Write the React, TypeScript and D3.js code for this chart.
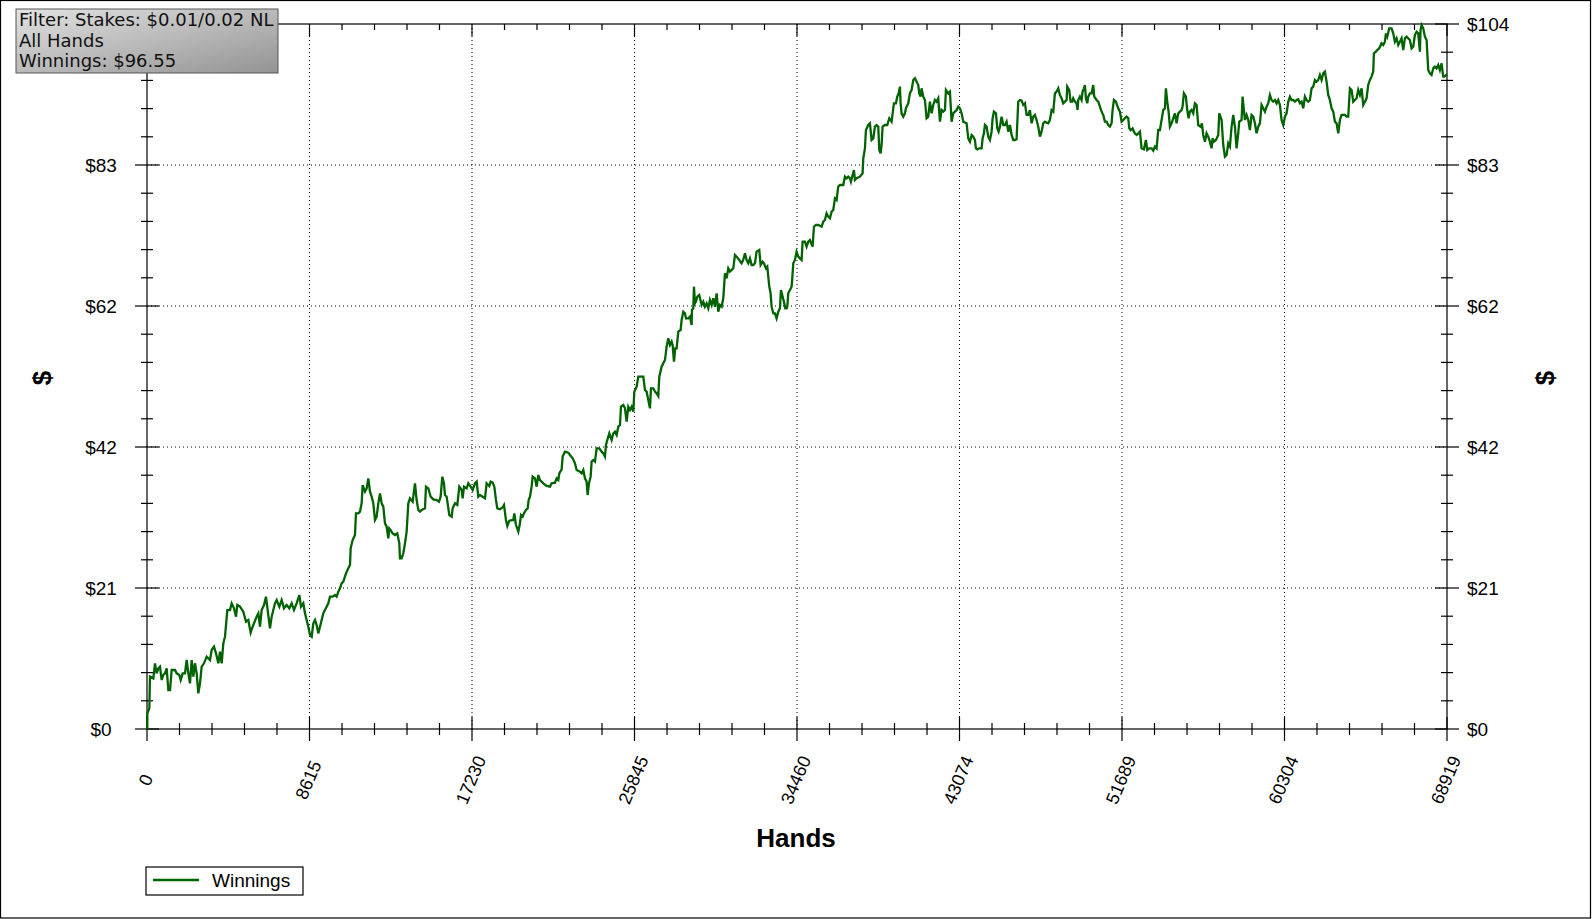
import * as d3 from "d3";

// chart values
const totalHands = 68919;
const maxWinnings = 104;
const xTickLabels = ["0", "8615", "17230", "25845", "34460", "43074", "51689", "60304", "68919"];
const yTickLabels = ["$0", "$21", "$42", "$62", "$83", "$104"];
const infoLines = ["Filter: Stakes: $0.01/0.02 NL", "All Hands", "Winnings: $96.55"];
const seriesName = "Winnings";
const xTitle = "Hands";
const yTitle = "$";

// [hands, cumulative winnings in $]
const winnings: [number, number][] = [
  [0, 0], [18, 0.34], [18, 2.31], [124, 3.05], [159, 7.72], [336, 7.47], [424, 9.69], [512, 8.21], [601, 8.95], [689, 9.19],
  [778, 7.23], [866, 7.97], [954, 8.21], [1043, 8.95], [1131, 5.75], [1219, 5.75], [1308, 8.7], [1484, 8.7], [1573, 8.21],
  [1714, 7.97], [1785, 7.23], [1891, 8.21], [2014, 8.21], [2103, 10.18], [2191, 8.21], [2279, 6.74], [2368, 10.18],
  [2456, 7.72], [2544, 9.69], [2633, 8.21], [2721, 5.26], [2810, 6.74], [2898, 9.19], [3022, 9.69], [3163, 10.67],
  [3340, 10.18], [3428, 11.65], [3552, 12.14], [3658, 11.16], [3781, 9.69], [3870, 11.41], [3958, 9.69], [4046, 12.64],
  [4135, 13.62], [4258, 17.55], [4400, 17.55], [4488, 18.54], [4612, 17.8], [4718, 16.57], [4788, 18.29], [4930, 18.05],
  [5106, 17.31], [5248, 15.83], [5371, 16.07], [5495, 14.21], [5601, 15.09], [5813, 16.57], [5902, 17.06], [5990, 15.09],
  [6079, 17.55], [6202, 18.29], [6308, 19.52], [6397, 17.55], [6520, 14.85], [6609, 16.57], [6785, 18.54], [6874, 19.03],
  [7015, 18.05], [7139, 19.03], [7262, 17.8], [7404, 18.29], [7545, 17.8], [7669, 18.54], [7792, 17.55], [7934, 18.54],
  [8075, 19.77], [8164, 18.05], [8287, 18.54], [8376, 17.06], [8464, 16.07], [8552, 15.09], [8641, 13.87], [8729, 13.62],
  [8817, 15.59], [8906, 16.07], [8994, 15.34], [9082, 14.11], [9171, 15.09], [9259, 16.07], [9347, 17.06], [9436, 17.55],
  [9524, 18.05], [9612, 18.54], [9701, 19.52], [9842, 19.52], [9966, 19.77], [10054, 19.52], [10143, 20.26], [10231, 20.75],
  [10319, 21.49], [10408, 21.73], [10549, 22.96], [10673, 23.7], [10761, 24.19], [10796, 26.65], [10902, 27.88],
  [11026, 28.62], [11079, 31.81], [11202, 31.81], [11291, 32.06], [11379, 33.29], [11432, 35.99], [11556, 35.01],
  [11645, 35.5], [11733, 36.98], [11821, 35.01], [11910, 34.27], [11998, 33.29], [12086, 30.83], [12175, 31.32],
  [12263, 33.29], [12351, 34.76], [12440, 33.29], [12528, 32.8], [12616, 30.34], [12705, 29.84], [12793, 28.13],
  [12846, 29.59], [12917, 29.35], [13023, 28.86], [13146, 28.62], [13270, 28.86], [13376, 27.39], [13411, 25.18],
  [13500, 25.18], [13588, 25.92], [13676, 27.39], [13765, 29.1], [13853, 33.29], [13941, 34.03], [14083, 33.54],
  [14207, 36.24], [14295, 33.78], [14383, 32.31], [14472, 32.06],
  [14561, 32.31], [14737, 32.55], [14790, 35.75], [14914, 35.5], [15038, 34.27], [15179, 33.88], [15356, 33.78],
  [15479, 33.54], [15568, 34.27], [15656, 37.22], [15744, 36.24], [15797, 34.52], [15886, 34.27], [16027, 31.57],
  [16151, 31.32], [16204, 32.55], [16328, 33.29], [16451, 33.05], [16557, 35.75], [16681, 35.26], [16734, 34.03],
  [16805, 35.75], [16946, 35.5], [17034, 36.24], [17158, 35.75], [17264, 35.26], [17388, 36.24], [17476, 36.49],
  [17564, 34.27], [17653, 34.52], [17794, 34.27], [17918, 34.03], [18006, 36.24], [18148, 35.85], [18218, 36.49],
  [18324, 36.34], [18413, 35.75], [18501, 33.78], [18572, 32.55], [18713, 32.41], [18854, 32.7], [18925, 33.05],
  [19031, 30.83], [19102, 29.95], [19208, 30.73], [19420, 30.83], [19473, 31.82], [19561, 30.09], [19685, 29.11],
  [19773, 30.34], [19826, 31.57], [19915, 31.32], [19985, 31.82], [20091, 32.31], [20180, 32.55], [20233, 33.78],
  [20303, 34.27], [20392, 35.75], [20445, 37.22], [20568, 36.98], [20657, 35.75], [20745, 37.47], [20833, 36.73],
  [21010, 36.24], [21187, 35.85], [21364, 35.75], [21452, 36.24], [21629, 36.34], [21717, 36.98], [21805, 36.73],
  [21858, 37.72], [21982, 38.31], [22035, 40.18], [22159, 40.91], [22335, 40.76], [22424, 40.42], [22565, 39.93],
  [22689, 39.19], [22777, 38.21], [22954, 37.96], [23042, 37.72], [23131, 38.21], [23219, 36.98], [23307, 36.49],
  [23360, 34.52], [23431, 36.24], [23519, 37.22], [23572, 39.44], [23661, 39.68], [23749, 39.44], [23837, 41.4],
  [23979, 41.4], [24102, 40.91], [24191, 40.67], [24279, 40.18], [24332, 41.9], [24403, 42.63], [24509, 43.62],
  [24632, 42.63], [24721, 43.62], [24809, 43.86], [24898, 43.37], [24986, 44.6], [25074, 44.85], [25127, 47.55],
  [25251, 47.8], [25339, 47.3], [25428, 45.34], [25516, 47.55], [25604, 47.06], [25693, 47.55], [25781, 46.81],
  [25834, 49.76], [25958, 50.5], [26046, 51.98], [26223, 51.98], [26311, 51.98], [26399, 50.01], [26488, 49.76],
  [26576, 48.53], [26665, 47.3], [26718, 50.26], [26841, 50.26], [26930, 49.76], [27018, 49.52], [27106, 49.12],
  [27159, 51.98], [27283, 53.45], [27371, 53.94], [27460, 54.43], [27548, 56.4], [27636, 57.63], [27725, 56.65],
  [27813, 57.14], [27866, 56.65], [27937, 54.19], [28007, 56.15], [28078, 56.15], [28166, 58.61], [28290, 58.86],
  [28343, 60.33], [28432, 61.56], [28520, 61.32], [28573, 60.58], [28696, 60.58], [28785, 60.83], [28873, 59.6],
  [28891, 61.81], [28962, 62.06], [28997, 65.25], [29050, 62.79], [29103, 63.04], [29173, 63.78], [29279, 64.02],
  [29403, 62.55], [29491, 63.04], [29579, 62.3], [29668, 62.79], [29756, 62.06], [29844, 63.29], [29933, 62.55],
  [30021, 63.53], [30109, 62.3], [30198, 64.27], [30286, 61.57], [30374, 62.55], [30463, 62.3], [30551, 63.53],
  [30639, 67.22], [30728, 66.48], [30816, 67.96], [30905, 67.47], [30993, 67.71], [31081, 67.96], [31170, 69.92],
  [31258, 69.68], [31399, 69.19], [31523, 68.7], [31611, 69.19], [31700, 70.17], [31788, 69.19], [31876, 68.7],
  [31965, 69.43], [32053, 68.45], [32141, 68.45], [32230, 68.7], [32318, 70.42], [32459, 70.66], [32530, 68.45],
  [32636, 68.94], [32707, 68.7], [32813, 67.96], [32884, 68.2], [32990, 65.25], [33060, 64.27], [33113, 62.3],
  [33202, 61.32], [33290, 61.32], [33378, 60.58], [33467, 61.57], [33555, 62.06], [33608, 64.76], [33696, 63.78],
  [33767, 63.04], [33838, 62.06], [33908, 62.06], [33944, 62.3], [33997, 64.27], [34085, 64.76], [34173, 65.25],
  [34209, 66.48], [34262, 68.7], [34350, 69.19], [34439, 70.42], [34527, 69.68], [34615, 69.43], [34704, 69.19],
  [34757, 71.89], [34880, 71.89], [34969, 71.16], [35057, 71.89], [35145, 72.14], [35287, 71.16], [35357, 74.1],
  [35463, 74.35], [35587, 74.35], [35764, 74.1], [35852, 74.84], [35940, 75.09], [36029, 76.07], [36117, 75.58],
  [36206, 75.33], [36294, 76.32], [36382, 76.56], [36471, 78.28], [36559, 78.04], [36647, 80.01], [36736, 80.25],
  [36912, 80.25], [37001, 81.48], [37089, 81.24], [37177, 81.48], [37266, 81.24], [37319, 80.74], [37407, 81.73],
  [37478, 82.46], [37531, 80.99], [37619, 81.24], [37796, 81.48], [37937, 81.97], [37973, 84.18], [38061, 85.66],
  [38114, 88.36], [38238, 89.1], [38326, 89.35], [38414, 86.89], [38503, 87.13], [38591, 88.86], [38679, 89.1],
  [38768, 88.86], [38821, 85.41], [38891, 84.92], [38944, 86.15], [38997, 88.86], [39121, 89.1], [39245, 89.1],
  [39351, 90.09], [39474, 89.59], [39598, 92.3], [39704, 92.3], [39775, 93.28], [39846, 93.77], [39916, 94.76],
  [39952, 92.3], [40005, 90.82], [40093, 90.33], [40181, 90.82], [40234, 91.56], [40270, 91.81], [40358, 92.3],
  [40446, 93.77], [40535, 94.26], [40623, 95.74], [40711, 95.99], [40800, 95.49], [40888, 95.0], [40941, 93.77],
  [41012, 93.28], [41065, 94.51], [41153, 93.28], [41241, 92.79], [41330, 90.09], [41418, 90.33], [41507, 92.54],
  [41595, 90.82], [41683, 92.05], [41772, 92.79], [41860, 92.54], [41948, 93.04], [42037, 89.59], [42125, 91.31],
  [42213, 91.07], [42302, 91.31], [42355, 94.26], [42478, 93.77], [42567, 94.02], [42602, 92.3], [42655, 89.59],
  [42743, 90.82], [42832, 91.07], [42920, 91.31], [43008, 91.81],
  [43097, 91.56], [43186, 90.82], [43274, 89.59], [43451, 89.35], [43539, 87.13], [43627, 86.64], [43716, 87.63],
  [43804, 87.38], [43892, 86.89], [43945, 85.66], [44016, 85.51], [44122, 85.66], [44246, 85.66], [44299, 87.13],
  [44369, 87.87], [44422, 89.1], [44511, 88.86], [44599, 87.38], [44688, 86.89], [44776, 88.12], [44829, 90.09],
  [44900, 91.07], [45006, 90.82], [45076, 88.61], [45147, 88.12], [45218, 88.86], [45306, 90.33], [45394, 89.1],
  [45483, 89.1], [45571, 89.59], [45659, 88.12], [45748, 89.1], [45836, 87.63], [45924, 86.89], [46013, 86.89],
  [46101, 86.99], [46189, 92.54], [46278, 92.79], [46366, 92.69], [46455, 92.05], [46543, 92.3], [46631, 90.58],
  [46720, 90.58], [46808, 91.31], [46896, 89.35], [46985, 90.33], [47073, 90.58], [47161, 89.84], [47250, 88.86],
  [47338, 87.38], [47426, 88.12], [47515, 89.35], [47603, 89.59], [47691, 89.45], [47780, 89.35], [47868, 89.84],
  [47956, 91.31], [48045, 91.07], [48133, 93.77], [48222, 94.02], [48310, 94.51], [48398, 93.53], [48487, 93.04],
  [48575, 92.3], [48663, 92.54], [48752, 92.79], [48787, 94.76], [48893, 94.26], [48964, 92.54], [49052, 92.54],
  [49105, 93.04], [49194, 92.54], [49282, 92.3], [49335, 91.31], [49370, 92.79], [49459, 93.28], [49547, 92.79],
  [49600, 94.02], [49670, 94.51], [49723, 95.0], [49776, 93.04], [49847, 92.3], [49900, 93.28], [49989, 93.77],
  [50077, 93.77], [50165, 95.0], [50218, 93.28], [50342, 92.79], [50430, 92.54], [50519, 91.81], [50607, 91.07],
  [50695, 90.58], [50784, 89.59], [50872, 89.59], [50960, 89.1], [51049, 88.86], [51137, 89.35], [51190, 91.31],
  [51261, 92.79], [51367, 92.54], [51490, 91.56], [51579, 91.07], [51667, 89.59], [51756, 89.84], [51844, 90.09],
  [51932, 90.33], [52021, 90.09], [52074, 88.61], [52144, 88.36], [52250, 88.61], [52321, 88.12], [52374, 87.87],
  [52462, 87.63], [52551, 87.87], [52639, 88.12], [52727, 85.66], [52851, 85.51], [52957, 86.89], [53028, 85.41],
  [53134, 85.66], [53257, 85.66], [53346, 85.32], [53434, 85.91], [53523, 85.66], [53611, 88.36], [53699, 88.36],
  [53788, 89.84], [53876, 91.31], [53964, 91.56], [54017, 94.51], [54088, 92.54], [54159, 91.07], [54229, 88.86],
  [54318, 89.35], [54406, 90.09], [54494, 90.82], [54583, 89.35], [54671, 90.82], [54759, 91.07], [54848, 91.31],
  [54901, 91.81], [54971, 93.77], [55077, 93.28], [55148, 91.31], [55219, 90.09], [55289, 91.07], [55378, 91.31],
  [55466, 90.82], [55554, 92.3], [55643, 92.05], [55731, 89.1], [55855, 88.86], [55926, 89.35], [55996, 87.63],
  [56085, 86.64], [56173, 87.87], [56261, 87.38], [56350, 86.64], [56438, 85.66], [56491, 87.13], [56562, 86.64],
  [56668, 86.89], [56792, 87.63], [56845, 90.82],
  [56969, 89.84], [57057, 86.15], [57145, 84.43], [57234, 84.68], [57322, 86.4], [57410, 85.91], [57499, 88.86],
  [57587, 90.58], [57675, 88.86], [57764, 85.66], [57852, 87.87], [57905, 89.59], [58029, 89.84], [58082, 93.28],
  [58152, 91.31], [58205, 89.84], [58294, 90.58], [58382, 89.84], [58471, 88.36], [58559, 90.58], [58647, 90.33],
  [58736, 89.35], [58824, 87.87], [58912, 88.86], [59001, 89.35], [59089, 92.05], [59177, 91.56], [59266, 91.07],
  [59354, 91.81], [59442, 92.3], [59531, 93.53], [59619, 92.79], [59707, 92.54], [59796, 92.79], [59884, 92.3],
  [59972, 92.79], [60061, 92.05], [60149, 89.84], [60238, 89.1], [60326, 90.33], [60414, 90.82], [60503, 92.54],
  [60591, 93.28], [60679, 92.79], [60768, 92.79], [60856, 92.54], [60944, 92.79], [61033, 92.89], [61121, 92.3],
  [61209, 92.54], [61298, 91.56], [61386, 93.28], [61474, 92.79], [61563, 92.54], [61651, 92.79], [61739, 94.51],
  [61828, 94.76], [61916, 95.74], [62005, 95.49], [62093, 95.74], [62181, 96.48], [62270, 95.74], [62358, 96.72],
  [62446, 96.97], [62535, 95.49], [62623, 93.53], [62711, 92.79], [62800, 91.56], [62888, 91.07], [62976, 89.59],
  [63065, 89.35], [63153, 87.87], [63241, 89.84], [63330, 90.58], [63418, 90.58], [63506, 90.58], [63595, 90.33],
  [63683, 90.33], [63772, 94.51], [63860, 94.26], [63948, 92.54], [64037, 92.79], [64125, 93.04], [64213, 94.26],
  [64302, 93.53], [64390, 94.51], [64478, 92.05], [64567, 92.54], [64655, 93.04], [64743, 95.0], [64832, 95.74],
  [64920, 96.23], [65008, 96.97], [65044, 99.67], [65150, 99.92], [65220, 100.16], [65326, 100.41], [65450, 101.15],
  [65539, 100.9], [65627, 101.39], [65680, 102.62], [65751, 102.13], [65857, 103.36], [65980, 103.36], [66069, 102.62],
  [66157, 101.39], [66245, 101.89], [66334, 100.9], [66422, 101.39], [66510, 101.89], [66599, 100.16], [66687, 101.89],
  [66775, 102.13], [66864, 101.89], [66952, 101.64], [67040, 100.41], [67129, 100.66], [67217, 102.38], [67306, 102.87],
  [67394, 102.62], [67482, 99.92], [67517, 103.11], [67571, 103.85], [67659, 103.36], [67747, 102.13], [67836, 101.64],
  [67924, 97.21], [68012, 96.72], [68101, 96.48], [68189, 97.46], [68277, 97.71], [68366, 97.46], [68454, 97.95],
  [68542, 97.21], [68631, 98.2], [68719, 96.23], [68772, 96.23], [68919, 96.55],
];

const W = 1592;
const H = 919;
const plot = { left: 147, right: 1447, top: 24, bottom: 729 };
const axisFont = "'Liberation Sans', Arial, sans-serif";
const lineColor = "#006200";

export default function App() {
  const x = d3.scaleLinear().domain([0, totalHands]).range([plot.left, plot.right]);
  const y = d3.scaleLinear().domain([0, maxWinnings]).range([plot.bottom, plot.top]);

  const xMajor = xTickLabels.map((_, i) => (i * totalHands) / (xTickLabels.length - 1));
  const yMajor = yTickLabels.map((_, i) => (i * maxWinnings) / (yTickLabels.length - 1));
  const xStep = xMajor[1] / 5;
  const yStep = yMajor[1] / 5;
  const xMinor = d3.range(1, 40).filter((i) => i % 5 !== 0).map((i) => i * xStep);
  const yMinor = d3.range(1, 25).filter((i) => i % 5 !== 0).map((i) => i * yStep);

  const path =
    d3
      .line<[number, number]>()
      .x((d) => x(d[0]))
      .y((d) => y(d[1]))(winnings) ?? "";

  const labelY = 780;
  // the info box covers the top-left corner, so the left label there is not shown
  const infoBoxBottom = 73;

  return (
    <svg
      width={W}
      height={H}
      style={{ position: "absolute", left: 0, top: 0, background: "#fff" }}
    >
      <defs>
        <linearGradient id="infoGrad" x1="0" y1="0" x2="1" y2="1">
          <stop offset="0%" stopColor="#e2e2e2" />
          <stop offset="100%" stopColor="#939393" />
        </linearGradient>
      </defs>
      <rect x={0.5} y={0.5} width={W - 2} height={H - 1.5} fill="#fff" stroke="#000" strokeWidth={1.2} />

      {/* grid */}
      {xMajor.slice(1, -1).map((v) => (
        <line key={`gx${v}`} x1={x(v)} x2={x(v)} y1={plot.top} y2={plot.bottom}
          stroke="#000" strokeDasharray="1 3" strokeWidth={1} />
      ))}
      {yMajor.slice(1, -1).map((v) => (
        <line key={`gy${v}`} x1={plot.left} x2={plot.right} y1={y(v)} y2={y(v)}
          stroke="#000" strokeDasharray="1 3" strokeWidth={1} />
      ))}

      {/* frame */}
      <rect x={plot.left} y={plot.top} width={plot.right - plot.left} height={plot.bottom - plot.top}
        fill="none" stroke="#000" strokeWidth={1.2} />

      {/* ticks */}
      {xMajor.map((v) => (
        <g key={`xt${v}`} stroke="#000" strokeWidth={1.2}>
          <line x1={x(v)} x2={x(v)} y1={plot.bottom - 12} y2={plot.bottom + 12} />
          <line x1={x(v)} x2={x(v)} y1={plot.top} y2={plot.top + 12} />
        </g>
      ))}
      {xMinor.map((v) => (
        <g key={`xm${v}`} stroke="#000" strokeWidth={1.2}>
          <line x1={x(v)} x2={x(v)} y1={plot.bottom - 6} y2={plot.bottom + 6} />
          <line x1={x(v)} x2={x(v)} y1={plot.top} y2={plot.top + 6} />
        </g>
      ))}
      {yMajor.map((v) => (
        <g key={`yt${v}`} stroke="#000" strokeWidth={1.2}>
          <line x1={plot.left - 12} x2={plot.left + 12} y1={y(v)} y2={y(v)} />
          <line x1={plot.right - 12} x2={plot.right + 12} y1={y(v)} y2={y(v)} />
        </g>
      ))}
      {yMinor.map((v) => (
        <g key={`ym${v}`} stroke="#000" strokeWidth={1.2}>
          <line x1={plot.left - 6} x2={plot.left + 6} y1={y(v)} y2={y(v)} />
          <line x1={plot.right - 6} x2={plot.right + 6} y1={y(v)} y2={y(v)} />
        </g>
      ))}

      {/* series */}
      <path d={path} fill="none" stroke={lineColor} strokeWidth={2.3} strokeLinejoin="miter" />

      {/* tick labels */}
      <g fontFamily={axisFont} fontSize={19} fill="#000">
        {yMajor.map((v, i) => (
          <g key={`yl${v}`}>
            {y(v) > infoBoxBottom && (
              <text x={101} y={y(v)} textAnchor="middle" dominantBaseline="central">{yTickLabels[i]}</text>
            )}
            <text x={1467} y={y(v)} textAnchor="start" dominantBaseline="central">{yTickLabels[i]}</text>
          </g>
        ))}
      </g>
      <g fontFamily={axisFont} fontSize={18} fill="#000">
        {xMajor.map((v, i) => (
          <text key={`xl${v}`} x={x(v) - 1} y={labelY} textAnchor="middle" dominantBaseline="central"
            transform={`rotate(-67 ${x(v) - 1} ${labelY})`}>
            {xTickLabels[i]}
          </text>
        ))}
      </g>

      {/* axis titles */}
      <text x={796} y={838} textAnchor="middle" dominantBaseline="central" fontFamily={axisFont}
        fontSize={26} fontWeight="bold">{xTitle}</text>
      <text x={42} y={378} textAnchor="middle" dominantBaseline="central" fontFamily={axisFont}
        fontSize={26} fontWeight="bold" transform="rotate(-90 42 378)">{yTitle}</text>
      <text x={1545} y={378} textAnchor="middle" dominantBaseline="central" fontFamily={axisFont}
        fontSize={26} fontWeight="bold" transform="rotate(-90 1545 378)">{yTitle}</text>

      {/* info box */}
      <rect x={16} y={9} width={262} height={64} fill="url(#infoGrad)" stroke="#555" strokeWidth={1} />
      <g fontFamily="'DejaVu Sans', Verdana, sans-serif" fontSize={18} fill="#111">
        {infoLines.map((t, i) => (
          <text key={t} x={19} y={26 + i * 20.5}>{t}</text>
        ))}
      </g>

      {/* legend */}
      <rect x={146} y={867} width={157} height={28} fill="#fff" stroke="#000" strokeWidth={1.2} />
      <line x1={153} x2={199} y1={880} y2={880} stroke={lineColor} strokeWidth={2.3} />
      <text x={212} y={887} fontFamily={axisFont} fontSize={19} fill="#000">{seriesName}</text>
    </svg>
  );
}
